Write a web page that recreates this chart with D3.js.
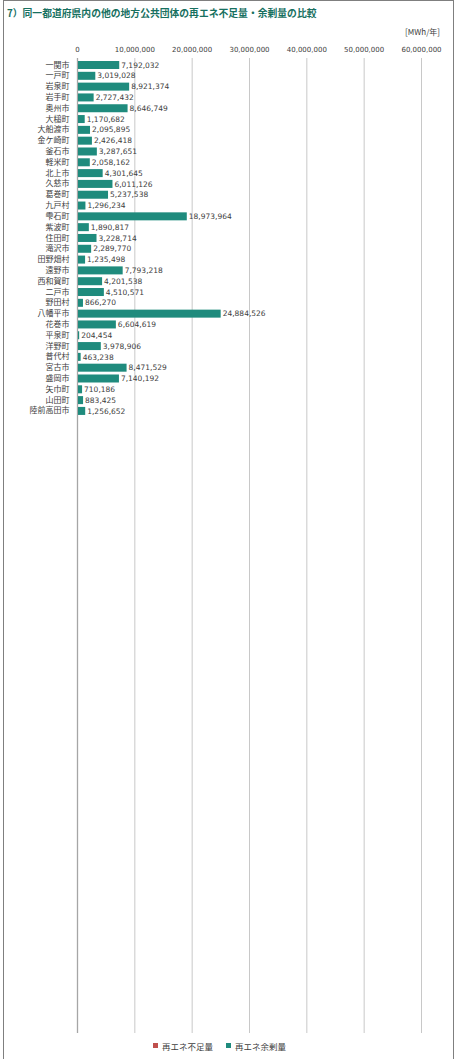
<!doctype html>
<html>
<head>
<meta charset="UTF-8" />
<title>再エネ不足量・余剰量の比較</title>
<script src="https://d3js.org/d3.v7.min.js"></script>
<style>
  body { margin: 0; background: #fff; }
  text { font-family: "DejaVu Sans", Verdana, sans-serif; }
  .jp { font-family: "Noto Sans CJK JP", sans-serif; }
</style>
</head>
<body>
<div id="chart"></div>
<script>
// data
const municipalities = ["一関市", "一戸町", "岩泉町", "岩手町", "奥州市", "大槌町", "大船渡市", "金ケ崎町",
  "釜石市", "軽米町", "北上市", "久慈市", "葛巻町", "九戸村", "雫石町", "紫波町", "住田町", "滝沢市",
  "田野畑村", "遠野市", "西和賀町", "二戸市", "野田村", "八幡平市", "花巻市", "平泉町", "洋野町",
  "普代村", "宮古市", "盛岡市", "矢巾町", "山田町", "陸前高田市"];
const surplus = [7192032, 3019028, 8921374, 2727432, 8646749, 1170682, 2095895, 2426418,
  3287651, 2058162, 4301645, 6011126, 5237538, 1296234, 18973964, 1890817, 3228714, 2289770,
  1235498, 7793218, 4201538, 4510571, 866270, 24884526, 6604619, 204454, 3978906,
  463238, 8471529, 7140192, 710186, 883425, 1256652];
const xTicks = [0, 10000000, 20000000, 30000000, 40000000, 50000000, 60000000];
const legendItems = [
  { label: "再エネ不足量", color: "#c0504d" },
  { label: "再エネ余剰量", color: "#1f8b7d" }
];

const width = 463, height = 1059;
const plotLeft = 77, plotRight = 421, plotTop = 58, plotBottom = 1033;

const svg = d3.select("#chart").append("svg")
    .attr("width", width)
    .attr("height", height);

// outer frame
svg.append("rect")
    .attr("x", 3.5).attr("y", 0.5)
    .attr("width", 450).attr("height", height + 5)
    .attr("fill", "none")
    .attr("stroke", "#7f7f7f");

// title
svg.append("text")
    .attr("class", "jp")
    .attr("x", 7).attr("y", 17)
    .attr("font-size", 9.8)
    .attr("font-weight", "bold")
    .attr("fill", "#17705f")
    .text("7）同一都道府県内の他の地方公共団体の再エネ不足量・余剰量の比較");

// unit
svg.append("text")
    .attr("class", "jp")
    .attr("x", 440).attr("y", 35)
    .attr("text-anchor", "end")
    .attr("font-size", 8)
    .attr("fill", "#404040")
    .text("[MWh/年]");

const x = d3.scaleLinear()
    .domain([0, 60000000])
    .range([plotLeft, plotRight]);

const y = d3.scaleBand()
    .domain(municipalities)
    .range([59.6, 59.6 + 10.81 * municipalities.length])
    .paddingInner(0.26)
    .paddingOuter(0.13);

// gridlines
svg.append("g")
  .selectAll("line")
  .data(xTicks)
  .join("line")
    .attr("x1", d => x(d) + 0.5).attr("x2", d => x(d) + 0.5)
    .attr("y1", plotTop).attr("y2", plotBottom)
    .attr("stroke", d => d === 0 ? "#a6a6a6" : "#c8c8c8")
    .attr("stroke-width", d => d === 0 ? 1.3 : 1);

// x-axis tick labels (top)
const xAxis = svg.append("g")
    .attr("transform", `translate(0,${plotTop - 3})`)
    .call(d3.axisTop(x).tickValues(xTicks).tickSize(0).tickFormat(d3.format(",")));
xAxis.select(".domain").remove();
xAxis.selectAll("text")
    .attr("font-family", "DejaVu Sans, Verdana, sans-serif")
    .attr("font-size", 7)
    .attr("fill", "#404040");

// y-axis labels
const yAxis = svg.append("g")
    .attr("transform", `translate(${plotLeft - 7.5},0)`)
    .call(d3.axisLeft(y).tickSize(0).tickPadding(0));
yAxis.select(".domain").remove();
yAxis.selectAll("text")
    .attr("class", "jp")
    .attr("font-family", "Noto Sans CJK JP, sans-serif")
    .attr("font-size", 8)
    .attr("fill", "#404040");

// bars
svg.append("g")
  .selectAll("rect")
  .data(municipalities)
  .join("rect")
    .attr("x", x(0) + 1)
    .attr("y", d => y(d))
    .attr("width", (d, i) => Math.max(1, x(surplus[i]) - x(0)))
    .attr("height", y.bandwidth())
    .attr("fill", legendItems[1].color);

// value labels
svg.append("g")
  .selectAll("text")
  .data(municipalities)
  .join("text")
    .attr("x", (d, i) => x(surplus[i]) + 3)
    .attr("y", d => y(d) + y.bandwidth() / 2)
    .attr("dy", "0.35em")
    .attr("font-size", 7.5)
    .attr("fill", "#404040")
    .text((d, i) => d3.format(",")(surplus[i]));

// legend
const legend = svg.append("g")
  .selectAll("g")
  .data(legendItems)
  .join("g")
    .attr("transform", (d, i) => `translate(${153 + i * 73},1047)`);
legend.append("rect")
    .attr("x", 0).attr("y", -4)
    .attr("width", 5).attr("height", 5)
    .attr("fill", d => d.color);
legend.append("text")
    .attr("class", "jp")
    .attr("x", 9).attr("y", 0)
    .attr("dy", "0.3em")
    .attr("font-size", 8.5)
    .attr("fill", "#404040")
    .text(d => d.label);
</script>
</body>
</html>
